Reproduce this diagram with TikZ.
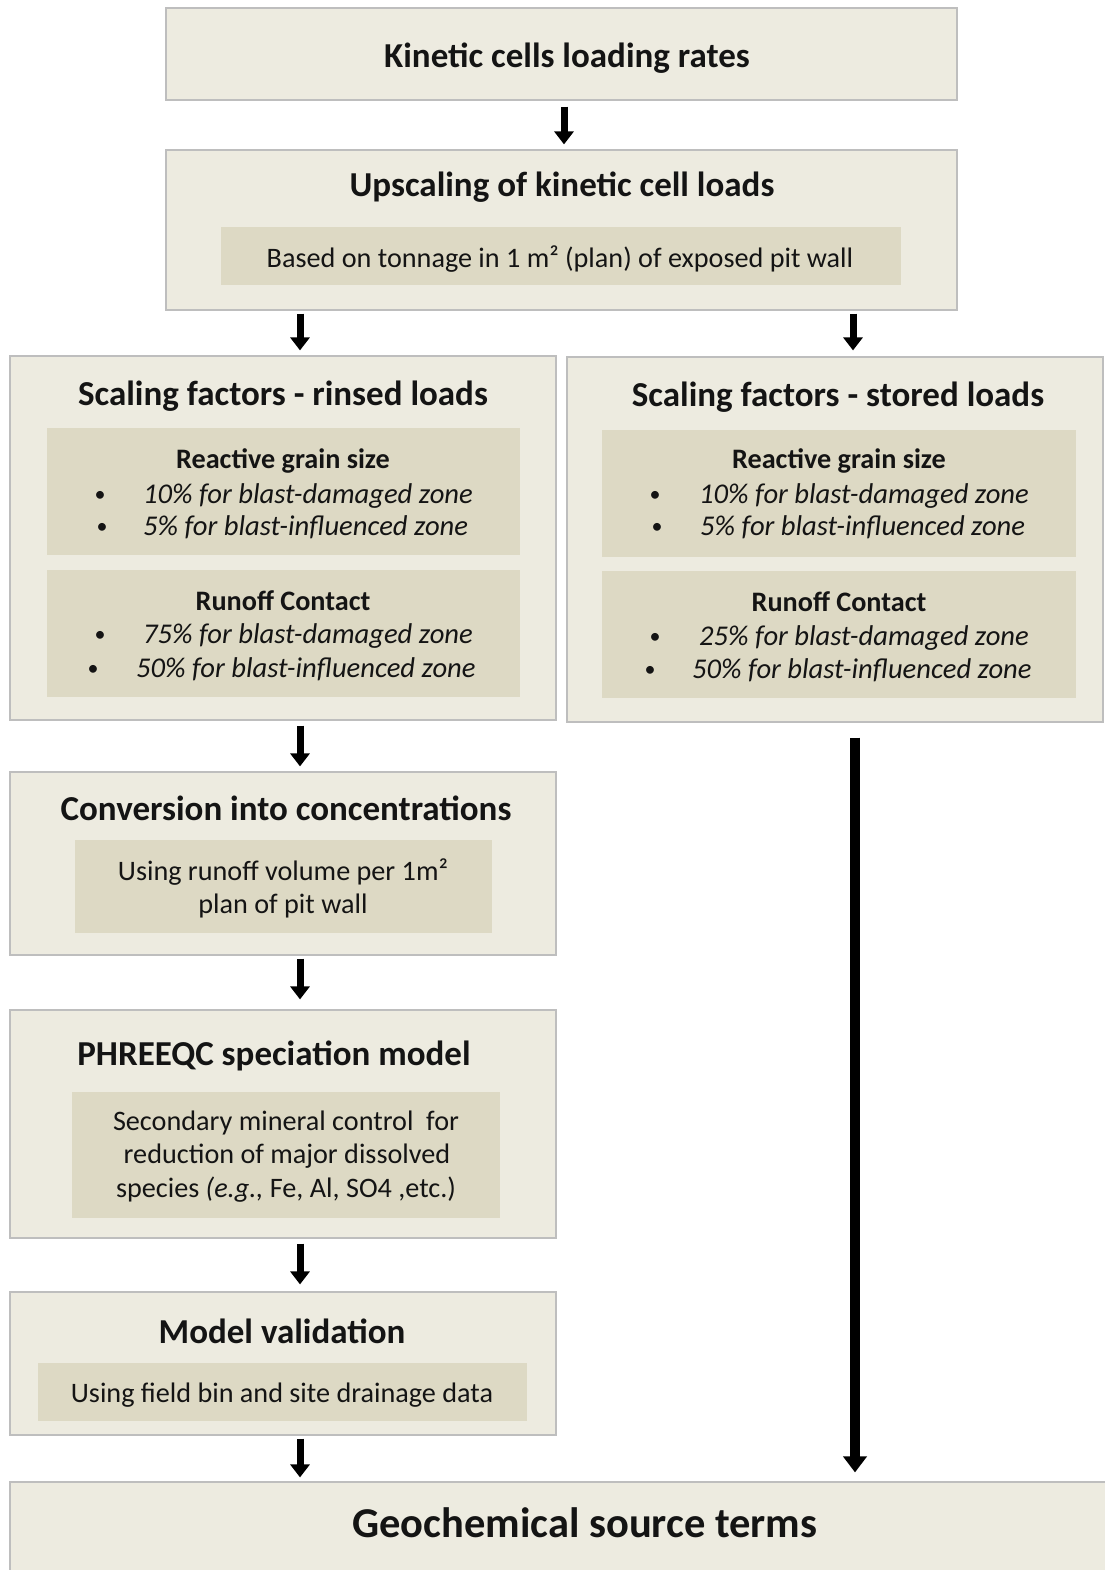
\documentclass[tikz,border=0pt]{standalone}
\usepackage{fontspec}
\setmainfont{Carlito}
\usetikzlibrary{arrows.meta}
\definecolor{outerfill}{RGB}{237,235,224}
\definecolor{innerfill}{RGB}{221,217,196}
\definecolor{boxline}{RGB}{190,190,190}
\definecolor{txt}{RGB}{20,20,20}
\tikzset{
  outerbox/.style={draw=boxline, line width=1.2pt, fill=outerfill, inner sep=0pt},
  innerbox/.style={fill=innerfill, inner sep=0pt},
  ttl/.style={anchor=base, inner sep=0pt, text=txt, font=\fontsize{35}{40}\selectfont\bfseries},
  bigttl/.style={anchor=base, inner sep=0pt, text=txt, font=\fontsize{42.5}{48}\selectfont\bfseries},
  sub/.style={anchor=base, inner sep=0pt, text=txt, font=\fontsize{28.2}{33}\selectfont\bfseries},
  body/.style={anchor=base, inner sep=0pt, text=txt, font=\fontsize{28.2}{33}\selectfont},
  itl/.style={anchor=base west, inner sep=0pt, text=txt, font=\fontsize{28.6}{33}\selectfont\itshape},
  bul/.style={anchor=base, inner sep=0pt, text=txt, font=\fontsize{22}{26}\selectfont},
  arr/.style={line width=7pt, -{Triangle[width=19pt,length=13pt]}},
  longarr/.style={line width=10pt, -{Triangle[width=23pt,length=16pt]}}
}
\begin{document}
\begin{tikzpicture}[x=1pt,y=-1pt]
\useasboundingbox (0,0) rectangle (1104,1570);
\fill[white] (0,0) rectangle (1104,1570);
% outer boxes
\node[outerbox, minimum width=791pt, minimum height=92pt] (b1) at (561.5,54) {};
\node[outerbox, minimum width=791pt, minimum height=160pt] (b2) at (561.5,230) {};
\node[outerbox, minimum width=546pt, minimum height=364pt] (b3) at (283,538) {};
\node[outerbox, minimum width=536pt, minimum height=365pt] (b4) at (835,539.5) {};
\node[outerbox, minimum width=546pt, minimum height=183pt] (b5) at (283,863.5) {};
\node[outerbox, minimum width=546pt, minimum height=228pt] (b6) at (283,1124) {};
\node[outerbox, minimum width=546pt, minimum height=143pt] (b7) at (283,1363.5) {};
\node[outerbox, minimum width=1100pt, minimum height=90pt] (b8) at (560,1527) {};
% inner boxes
\node[innerbox, minimum width=680pt, minimum height=58pt] (i2) at (561,256) {};
\node[innerbox, minimum width=473pt, minimum height=127pt] (i3a) at (283.5,491.5) {};
\node[innerbox, minimum width=473pt, minimum height=127pt] (i3b) at (283.5,633.5) {};
\node[innerbox, minimum width=474pt, minimum height=127pt] (i4a) at (839,493.5) {};
\node[innerbox, minimum width=474pt, minimum height=127pt] (i4b) at (839,634.5) {};
\node[innerbox, minimum width=417pt, minimum height=93pt] (i5) at (283.5,886.5) {};
\node[innerbox, minimum width=428pt, minimum height=126pt] (i6) at (286,1155) {};
\node[innerbox, minimum width=489pt, minimum height=58pt] (i7) at (282.5,1392) {};
% texts
\node[ttl] (t1) at (567,68) {Kinetic cells loading rates};
\node[ttl] (t2) at (562,197) {Upscaling of kinetic cell loads};
\node[body] (t2b) at (560,267) {Based on tonnage in 1 m² (plan) of exposed pit wall};
\node[ttl] (t3) at (283,405) {Scaling factors - rinsed loads};
\node[sub] (t3a) at (283,468) {Reactive grain size};
\node[bul] (t3a1b) at (100,501) {•};
\node[itl] (t3a1) at (143,503) {10\% for blast-damaged zone};
\node[bul] (t3a2b) at (102,533) {•};
\node[itl] (t3a2) at (143,535) {5\% for blast-influenced zone};
\node[sub] (t3b) at (283,610) {Runoff Contact};
\node[bul] (t3b1b) at (100,641) {•};
\node[itl] (t3b1) at (143,643) {75\% for blast-damaged zone};
\node[bul] (t3b2b) at (93,675) {•};
\node[itl] (t3b2) at (136,677) {50\% for blast-influenced zone};
\node[ttl] (t4) at (838,406) {Scaling factors - stored loads};
\node[sub] (t4a) at (839,468) {Reactive grain size};
\node[bul] (t4a1b) at (655,501) {•};
\node[itl] (t4a1) at (699,503) {10\% for blast-damaged zone};
\node[bul] (t4a2b) at (657,533) {•};
\node[itl] (t4a2) at (700,535) {5\% for blast-influenced zone};
\node[sub] (t4b) at (839,611) {Runoff Contact};
\node[bul] (t4b1b) at (655,643) {•};
\node[itl] (t4b1) at (699,645) {25\% for blast-damaged zone};
\node[bul] (t4b2b) at (650,676) {•};
\node[itl] (t4b2) at (692,678) {50\% for blast-influenced zone};
\node[ttl] (t5) at (286,820) {Conversion into concentrations};
\node[body] (t5a) at (283,880) {Using runoff volume per 1m²};
\node[body] (t5b) at (283,913) {plan of pit wall};
\node[ttl] (t6) at (274,1065) {PHREEQC speciation model};
\node[body] (t6a) at (286,1130) {Secondary mineral control\ \ for};
\node[body] (t6b) at (287,1163) {reduction of major dissolved};
\node[body] (t6c) at (286,1197) {species \textit{(e.g.,} Fe, Al, SO4 ,etc.)};
\node[ttl] (t7) at (282,1343) {Model validation};
\node[body] (t7a) at (282,1402) {Using field bin and site drainage data};
\node[bigttl] (t8) at (585,1537) {Geochemical source terms};
% arrows
\coordinate (xm) at (564,0);
\coordinate (xl) at (300,0);
\coordinate (xr) at (853,0);
\coordinate (xrl) at (855,0);
\draw[arr, shorten <=6pt, shorten >=5pt] (b1.south -| xm) -- (b2.north -| xm);
\draw[arr, shorten <=3pt, shorten >=5pt] (b2.south -| xl) -- (b3.north -| xl);
\draw[arr, shorten <=3pt, shorten >=6pt] (b2.south -| xr) -- (b4.north -| xr);
\draw[arr, shorten <=5pt, shorten >=5pt] (b3.south -| xl) -- (b5.north -| xl);
\draw[arr, shorten <=3pt, shorten >=10pt] (b5.south -| xl) -- (b6.north -| xl);
\draw[arr, shorten <=5pt, shorten >=7pt] (b6.south -| xl) -- (b7.north -| xl);
\draw[arr, shorten <=3pt, shorten >=4pt] (b7.south -| xl) -- (b8.north -| xl);
\draw[longarr, shorten <=15pt, shorten >=9pt] (b4.south -| xrl) -- (b8.north -| xrl);
\end{tikzpicture}
\end{document}
